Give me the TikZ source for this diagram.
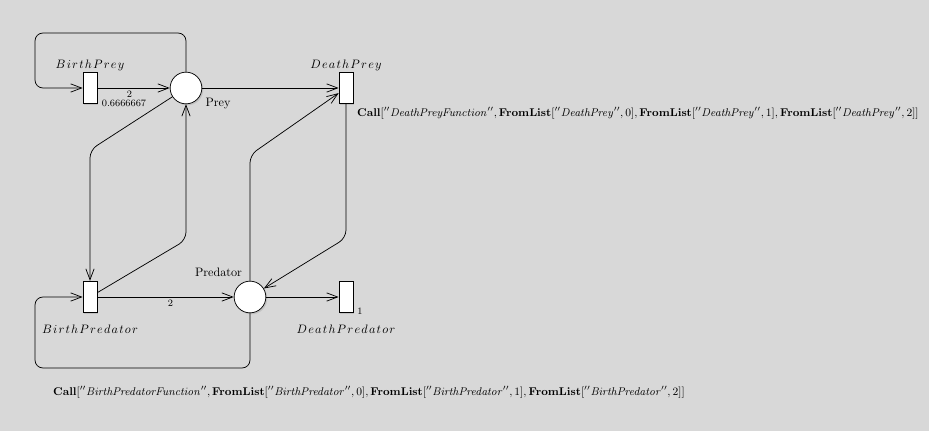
\RequirePackage{fix-cm}
\documentclass[tikz,border=0pt]{standalone}
\usetikzlibrary{arrows.meta,shadows}
\definecolor{bg}{RGB}{216,216,216}
\newcommand\lsp{\mkern1.8mu}
\tikzset{
  trans/.style={draw, fill=white, minimum width=11.5pt, minimum height=26pt, inner sep=0pt, line width=0.6pt,
    drop shadow={shadow xshift=1.2pt, shadow yshift=-1.2pt, opacity=0.25}},
  place/.style={draw, fill=white, circle, minimum size=26pt, inner sep=0pt, line width=0.6pt,
    drop shadow={shadow xshift=1.2pt, shadow yshift=-1.2pt, opacity=0.25}},
  arc/.style={draw, line width=0.6pt, -{Straight Barb[length=9pt,width=6.8pt]}, rounded corners=6.5pt},
  lbl/.style={inner sep=0pt, font=\normalsize},
  num/.style={inner sep=0pt, font=\footnotesize},
  call/.style={inner sep=0pt, anchor=west, font=\fontsize{9.2}{10}\selectfont},
}
\begin{document}
\begin{tikzpicture}[x=0.82pt,y=-0.82pt]
\fill[bg] (0,0) rectangle (929,431);
\useasboundingbox (0,0) rectangle (929,431);
% nodes
\node[trans] (BP) at (90,88) {};
\node[place] (Prey) at (186,88) {};
\node[trans] (DP) at (346,88) {};
\node[trans] (BPr) at (90,297) {};
\node[place] (Pred) at (250,297) {};
\node[trans] (DPr) at (346,297) {};
% bend points
\coordinate (l1a) at (186,33);
\coordinate (l1b) at (35,33);
\coordinate (l1c) at (35,88);
\coordinate (c1) at (90,150);
\coordinate (c2) at (186,240);
\coordinate (c3) at (250,155);
\coordinate (c4) at (346,238);
\coordinate (l2a) at (250,368);
\coordinate (l2b) at (35,368);
\coordinate (l2c) at (35,297);
% arcs
\draw[arc] (Prey.north) -- (l1a) -- (l1b) -- (l1c) -- (BP.west);
\draw[arc] (BP) -- (Prey);
\draw[arc] (Prey) -- (DP);
\draw[arc] (Prey) -- (c1) -- (BPr.north);
\draw[arc] (BPr) -- (c2) -- (Prey.south);
\draw[arc] (Pred.north) -- (c3) -- (DP);
\draw[arc] (DP.south) -- (c4) -- (Pred);
\draw[arc] (BPr) -- (Pred);
\draw[arc] (Pred) -- (DPr);
\draw[arc] (Pred.south) -- (l2a) -- (l2b) -- (l2c) -- (BPr.west);
% labels
\node[lbl] (tBP) at (90,65) {$B\lsp i\lsp r\lsp t\lsp h\lsp P\lsp r\lsp e\lsp y$};
\node[lbl] (tDP) at (346,65) {$D\lsp e\lsp a\lsp t\lsp h\lsp P\lsp r\lsp e\lsp y$};
\node[lbl] (tBPr) at (90,329) {$B\lsp i\lsp r\lsp t\lsp h\lsp P\lsp r\lsp e\lsp d\lsp a\lsp t\lsp o\lsp r$};
\node[lbl] (tDPr) at (346,329) {$D\lsp e\lsp a\lsp t\lsp h\lsp P\lsp r\lsp e\lsp d\lsp a\lsp t\lsp o\lsp r$};
\node[lbl] (tPrey) at (218,104) {Prey};
\node[lbl] (tPred) at (218.5,272.5) {Predator};
\node[num] (w1) at (129.5,94.5) {2};
\node[num] (r1) at (124,103) {0.6666667};
\node[num] (w2) at (170.5,303) {2};
\node[num] (r2) at (360,311) {1};
\node[call] (callDP) at (357,113) {$\mathbf{Call}[''\mathit{DeathPreyFunction}'',\mathbf{FromList}[''\mathit{DeathPrey}'',0],\mathbf{FromList}[''\mathit{DeathPrey}'',1],\mathbf{FromList}[''\mathit{DeathPrey}'',2]]$};
\node[call] (callBPr) at (53,392) {$\mathbf{Call}[''\mathit{BirthPredatorFunction}'',\mathbf{FromList}[''\mathit{BirthPredator}'',0],\mathbf{FromList}[''\mathit{BirthPredator}'',1],\mathbf{FromList}[''\mathit{BirthPredator}'',2]]$};
\end{tikzpicture}
\end{document}
